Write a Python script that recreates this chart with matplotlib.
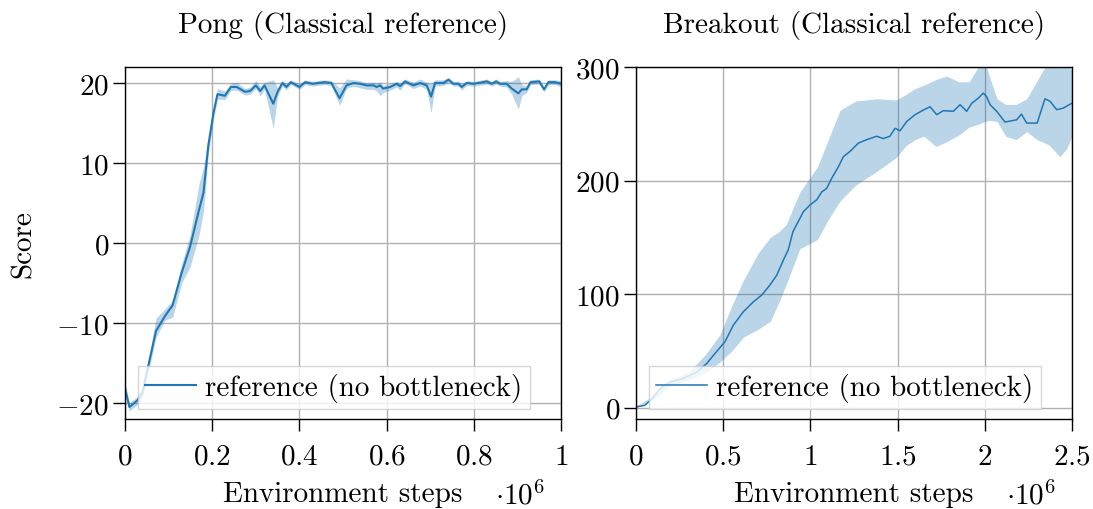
import matplotlib
matplotlib.use('Agg')
import matplotlib.pyplot as plt

# ---------------- data (x in millions of environment steps) ----------------
pong_steps = [0, 0.01, 0.028, 0.04, 0.056, 0.071, 0.092, 0.109, 0.13, 0.149,
              0.17, 0.18, 0.191, 0.203, 0.212, 0.229, 0.243, 0.256, 0.275, 0.287,
              0.30, 0.31, 0.32, 0.34, 0.35, 0.361, 0.37, 0.38, 0.40, 0.413,
              0.43, 0.443, 0.458, 0.473, 0.492, 0.508, 0.524, 0.539, 0.554, 0.570,
              0.577, 0.585, 0.592, 0.608, 0.623, 0.631, 0.642, 0.661, 0.677, 0.692,
              0.702, 0.711, 0.730, 0.742, 0.753, 0.765, 0.772, 0.784, 0.799, 0.810,
              0.830, 0.841, 0.851, 0.860, 0.875, 0.887, 0.902, 0.910, 0.921, 0.930,
              0.950, 0.961, 0.971, 0.986, 1.0]
pong_score = [-18.2, -20.5, -19.7, -18.7, -14.7, -11.0, -9.1, -7.8, -3.7, -0.5,
              4.2, 6.3, 12.2, 16.3, 18.6, 18.4, 19.5, 19.5, 18.9, 19.0,
              19.7, 19.0, 19.7, 17.4, 18.9, 20.0, 19.5, 20.1, 19.5, 20.1,
              19.9, 20.0, 20.1, 20.0, 18.1, 19.7, 20.0, 19.9, 19.7, 19.7,
              19.5, 19.7, 19.3, 19.5, 19.9, 19.6, 20.2, 19.7, 20.0, 19.7,
              18.3, 20.0, 20.0, 20.4, 19.9, 19.9, 19.5, 20.0, 19.9, 20.0,
              20.2, 19.9, 20.2, 19.9, 19.9, 19.3, 18.7, 19.2, 19.2, 20.1,
              20.2, 19.2, 20.1, 20.1, 19.9]
pong_low = [-19.0, -21.0, -20.2, -19.3, -15.5, -11.8, -9.6, -9.3, -5.0, -3.0,
            1.0, 4.0, 11.0, 15.5, 18.0, 17.9, 19.1, 19.1, 18.5, 18.6,
            19.3, 18.4, 19.2, 14.3, 18.4, 19.6, 19.1, 19.8, 19.2, 19.8,
            19.6, 19.7, 19.8, 19.7, 17.2, 19.3, 19.6, 19.4, 19.2, 19.2,
            19.0, 18.4, 18.8, 19.1, 19.5, 19.1, 19.9, 19.3, 19.6, 19.2,
            16.3, 19.6, 19.7, 20.1, 19.6, 19.6, 19.1, 19.7, 19.6, 19.7,
            19.9, 19.6, 19.9, 19.6, 19.5, 18.6, 16.7, 18.4, 18.8, 19.8,
            19.9, 18.9, 19.8, 19.8, 19.5]
pong_high = [-17.5, -20.0, -19.2, -18.0, -13.9, -9.4, -8.2, -7.2, -2.6, 1.0,
             7.5, 9.5, 13.0, 17.0, 19.3, 19.0, 20.0, 20.1, 19.3, 19.5,
             20.3, 19.6, 20.1, 20.4, 19.4, 20.3, 19.9, 20.4, 19.9, 20.4,
             20.2, 20.3, 20.4, 20.3, 19.4, 20.5, 20.4, 20.3, 20.0, 20.1,
             20.0, 20.1, 19.7, 19.9, 20.2, 20.0, 20.5, 20.1, 20.5, 20.1,
             19.9, 20.4, 20.4, 20.7, 20.2, 20.2, 19.9, 20.3, 20.2, 20.3,
             20.5, 20.2, 20.5, 20.2, 20.3, 20.2, 20.8, 19.8, 19.6, 20.4,
             20.5, 19.5, 20.4, 20.4, 20.3]

breakout_steps = [0, 0.05, 0.084, 0.138, 0.195, 0.27, 0.35, 0.405, 0.46, 0.51,
                  0.558, 0.615, 0.673, 0.72, 0.768, 0.807, 0.845, 0.873, 0.90, 0.96,
                  0.998, 1.036, 1.065, 1.093, 1.122, 1.16, 1.189, 1.227, 1.275, 1.323,
                  1.38, 1.418, 1.456, 1.485, 1.514, 1.552, 1.60, 1.647, 1.686, 1.724,
                  1.762, 1.82, 1.858, 1.896, 1.925, 1.963, 1.991, 2.01, 2.03, 2.068,
                  2.116, 2.183, 2.21, 2.24, 2.30, 2.345, 2.374, 2.412, 2.45, 2.498]
breakout_score = [0.6, 2, 6.5, 16.8, 22.6, 25.6, 31.5, 38.8, 49, 58,
                  72.6, 84.4, 93.2, 99, 108, 116.7, 130, 139, 155, 172.6,
                  178.5, 183, 190, 193, 202, 212, 221, 225.6, 233, 236,
                  239, 237, 239, 246, 243.8, 252, 258, 262, 265, 258,
                  261.5, 261, 266.8, 261, 268, 272.6, 277, 274, 266.8, 261,
                  251.5, 253.5, 258.5, 250.6, 250.6, 272, 269.8, 262.4, 263.8, 268]

breakout_band_steps = [0, 0.1, 0.2, 0.3, 0.4, 0.48, 0.55, 0.615, 0.7, 0.77,
                       0.82, 0.86, 0.94, 1.04, 1.1, 1.17, 1.26, 1.38, 1.49, 1.55,
                       1.6, 1.65, 1.72, 1.78, 1.85, 1.91, 1.97, 2.0, 2.03, 2.07,
                       2.12, 2.18, 2.24, 2.3, 2.345, 2.37, 2.43, 2.47, 2.5]
breakout_high = [1, 11, 25, 31, 47, 64, 90, 112, 136, 150,
                 155, 161, 190, 212, 235, 262, 270, 272, 271, 276,
                 281, 284, 289, 292, 287, 287, 302, 305, 290, 272,
                 267, 267, 272, 288, 300, 302, 303, 302, 297]
breakout_low = [0, 7, 20, 24, 31, 40, 50, 62, 69, 76,
                93, 108, 140, 148, 165, 182, 196, 208, 220, 231,
                236, 239, 230, 234, 240, 247, 250, 252, 253, 252,
                239, 236, 243, 236, 233, 231, 221, 228, 239]

pong_xticks = [0, 0.2, 0.4, 0.6, 0.8, 1]
pong_yticks = [-20, -10, 0, 10, 20]
breakout_xticks = [0, 0.5, 1, 1.5, 2, 2.5]
breakout_yticks = [0, 100, 200, 300]

# ---------------- style ----------------
plt.rcParams['font.family'] = 'serif'
plt.rcParams['font.serif'] = ['cmr10']
plt.rcParams['mathtext.fontset'] = 'cm'
plt.rcParams['axes.formatter.use_mathtext'] = True
fs = 21

blue = '#1f77b4'

fig = plt.figure(figsize=(10.93, 5.10), dpi=100)
ax1 = fig.add_axes([0.1144, 0.1765, 0.3989, 0.6902])
ax2 = fig.add_axes([0.5819, 0.1765, 0.3989, 0.6902])


def tick_fmt(ticks):
    # math-text labels so that the minus sign renders in the CM font
    return ['$%g$' % t for t in ticks]


def style_axis(ax, title, xticks, yticks, xlim, ylim):
    ax.set_xlim(xlim)
    ax.set_ylim(ylim)
    ax.set_xticks(xticks)
    ax.set_xticklabels(tick_fmt(xticks), fontsize=fs)
    ax.set_yticks(yticks)
    ax.set_yticklabels(tick_fmt(yticks), fontsize=fs)
    ax.grid(True, color='#b0b0b0', linewidth=1.0)
    ax.set_axisbelow(True)
    ax.tick_params(direction='out', length=8.5, width=1.0, pad=3)
    ax.tick_params(axis='x', pad=9)
    for sp in ax.spines.values():
        sp.set_linewidth(1.0)
    ax.set_title(title, fontsize=fs, pad=25)
    ax.set_xlabel('Environment steps', fontsize=fs, labelpad=8)
    ax.text(0.905, -0.215, r'$\cdot 10^{6}$', transform=ax.transAxes,
            ha='center', va='center', fontsize=fs)
    leg = ax.legend(loc='lower left', fontsize=fs, handlelength=1.75,
                    handletextpad=0.3, borderpad=0.25, borderaxespad=0,
                    fancybox=False, framealpha=0.8, edgecolor='#cccccc',
                    bbox_to_anchor=(0.03, 0.028))
    leg.get_frame().set_linewidth(1.0)


# Pong
ax1.fill_between(pong_steps, pong_low, pong_high, color=blue, alpha=0.3, linewidth=0)
ax1.plot(pong_steps, pong_score, color=blue, linewidth=1.5, label='reference (no bottleneck)')
style_axis(ax1, 'Pong (Classical reference)', pong_xticks, pong_yticks, (0, 1), (-22, 22))
ax1.set_ylabel('Score', fontsize=fs, labelpad=14)

# Breakout
ax2.fill_between(breakout_band_steps, breakout_low, breakout_high, color=blue, alpha=0.3, linewidth=0)
ax2.plot(breakout_steps, breakout_score, color=blue, linewidth=1.1, label='reference (no bottleneck)')
style_axis(ax2, 'Breakout (Classical reference)', breakout_xticks, breakout_yticks, (0, 2.5), (-10, 300))

fig.savefig('out.png', dpi=100)
